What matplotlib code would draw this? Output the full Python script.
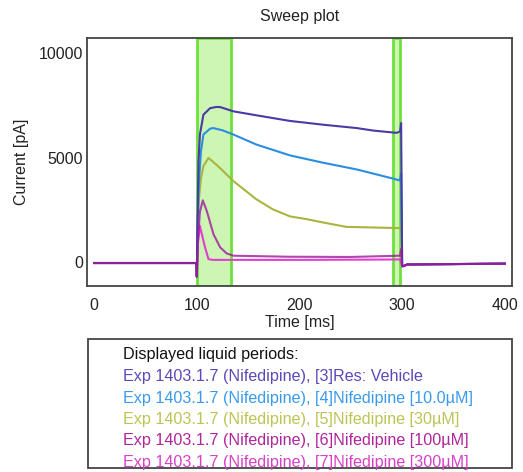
#!/usr/bin/env python3

import matplotlib
matplotlib.use("Agg")
import matplotlib.pyplot as plt
from matplotlib.patches import Rectangle

plt.rcParams["font.family"] = ["Liberation Sans", "DejaVu Sans"]

W, H = 523, 472

# traces (time in ms, current in pA)
t_vehicle = [0, 99.5, 100, 100.5, 101.6, 103, 106.4, 112.9, 119, 123, 135.6, 158,
             190.8, 223, 255.6, 271.8, 294.5, 298, 299, 300, 301, 305, 400]
i_vehicle = [-50, -50, -700, 1500, 4800, 6100, 7050, 7360, 7420, 7410, 7210, 7020,
             6750, 6570, 6410, 6290, 6180, 6250, 6650, -200, -200, -120, -80]

t_nif10 = [0, 99.5, 100, 100.5, 102, 104, 106.4, 112.9, 116, 125, 135.6, 158,
           190.8, 223, 255.6, 288, 297.8, 299, 300, 301, 305, 400]
i_nif10 = [-50, -50, -700, 1200, 3800, 5300, 6100, 6380, 6410, 6300, 6100, 5620,
           5100, 4750, 4430, 4030, 3900, 4250, -200, -200, -120, -80]

t_nif30 = [0, 99.5, 100, 100.5, 102, 104, 106.4, 111.3, 118, 125.7, 135.6, 158, 174,
           190.8, 207, 223, 245.7, 271.8, 297.8, 299, 300, 301, 305, 400]
i_nif30 = [-50, -50, -700, 1000, 3000, 4000, 4590, 4980, 4700, 4350, 3870, 3000, 2520,
           2180, 2050, 1890, 1680, 1650, 1620, 1700, -200, -200, -120, -80]

t_nif100 = [0, 99.5, 100, 101, 103, 105.8, 109.7, 116.2, 122.7, 129, 135.6, 190, 250,
            298, 299, 300, 301, 305, 400]
i_nif100 = [-50, -50, -700, 1000, 2400, 2950, 2440, 1330, 700, 410, 300, 250, 240,
            300, 620, -200, -200, -120, -80]

t_nif300 = [0, 99.5, 100, 101, 103, 105, 108, 111.3, 115, 200, 298, 300, 301, 305, 400]
i_nif300 = [-50, -50, -700, 900, 1730, 1300, 700, 140, 100, 100, 120, -200, -200, -120, -80]

# liquid periods (ms)
periods = [(100, 133), (291, 298)]

legend_title = "Displayed liquid periods:"
legend_labels = [
    "Exp 1403.1.7 (Nifedipine), [3]Res: Vehicle",
    "Exp 1403.1.7 (Nifedipine), [4]Nifedipine [10.0\u00b5M]",
    "Exp 1403.1.7 (Nifedipine), [5]Nifedipine [30\u00b5M]",
    "Exp 1403.1.7 (Nifedipine), [6]Nifedipine [100\u00b5M]",
    "Exp 1403.1.7 (Nifedipine), [7]Nifedipine [300\u00b5M]",
]
line_colors = ["#4a3aa6", "#2a8ee0", "#a9b53e", "#a0189a", "#e23ed2"]
text_colors = ["#5a4ab8", "#3a9aec", "#bcc454", "#b0259a", "#d840c8"]

traces = [(t_vehicle, i_vehicle), (t_nif10, i_nif10), (t_nif30, i_nif30),
          (t_nif100, i_nif100), (t_nif300, i_nif300)]
# drawing order and opacity so the shared baseline blends to purple
draw_order = [2, 1, 4, 0, 3]
line_alpha = [1, 1, 1, 0.8, 1]


def fx(px):
    return px / W


def fy(py):
    return 1 - py / H


fig = plt.figure(figsize=(W / 100, H / 100), dpi=100)
ax = fig.add_axes([fx(87), fy(286), fx(512) - fx(87), fy(38) - fy(286)])

for start, end in periods:
    ax.axvspan(start, end, facecolor="#cdf5b4", edgecolor="#6ee03c", linewidth=2, zorder=1)

for k in draw_order:
    t, i = traces[k]
    ax.plot(t, i, color=line_colors[k], alpha=line_alpha[k], linewidth=1.5, zorder=3)

ax.set_xlim(-7, 407)
ax.set_ylim(-1150, 10720)
ax.set_xticks([0, 100, 200, 300, 400])
ax.set_yticks([0, 5000, 10000])
ax.tick_params(length=0, labelsize=11.5, colors="#222222")
ax.tick_params(axis="x", pad=9)
ax.tick_params(axis="y", pad=3)
for s in ax.spines.values():
    s.set_color("#444444")
    s.set_linewidth(1.3)

fig.text(fx(300), fy(17), "Sweep plot", ha="center", va="center", fontsize=11.5, color="#222222")
fig.text(fx(300), fy(323), "Time [ms]", ha="center", va="center", fontsize=11.5, color="#222222")
fig.text(fx(22), fy(162), "Current [pA]", ha="center", va="center", rotation=90,
         fontsize=11.5, color="#222222")

# liquid period box
box = Rectangle((fx(88), fy(468)), fx(512) - fx(88), fy(339) - fy(468),
                transform=fig.transFigure, fill=False, edgecolor="#444444", linewidth=1.3)
fig.add_artist(box)

fig.text(fx(123), fy(355), legend_title, ha="left", va="center", fontsize=11.6, color="#111111")
for k, (label, c) in enumerate(zip(legend_labels, text_colors)):
    fig.text(fx(123), fy(377 + 21.3 * k), label, ha="left", va="center", fontsize=11.6, color=c)

fig.savefig("out.png", dpi=100)
